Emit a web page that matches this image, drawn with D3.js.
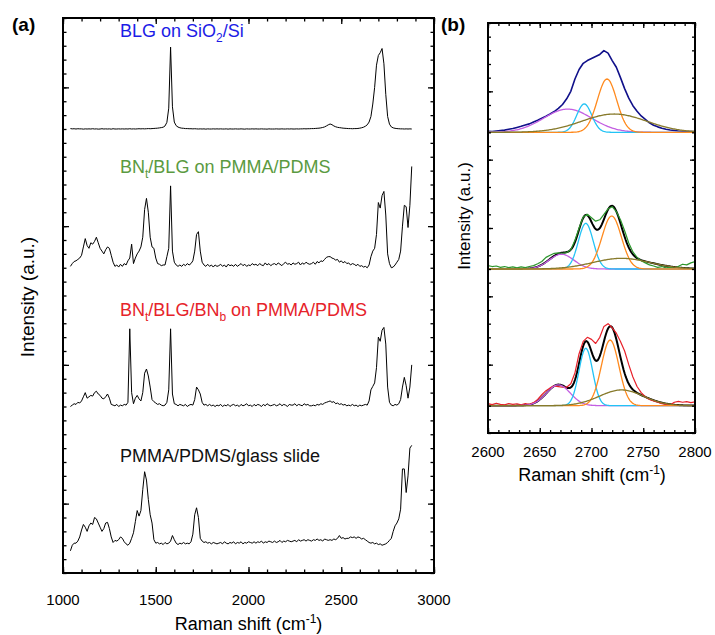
<!DOCTYPE html>
<html><head><meta charset="utf-8">
<script src="https://cdn.jsdelivr.net/npm/d3@7"></script>
<style>
body{margin:0;background:#fff}
svg{display:block}
text{font-family:"Liberation Sans",Arial,Helvetica,sans-serif}
</style>
</head><body>
<svg id="c" width="715" height="635"></svg>
<script>
// ---------------- DATA: panel (a) ----------------
// Raman shift grid of the spectra (cm^-1), 10 cm^-1 steps from 1040 to 2880
const shiftStart = 1040, shiftEnd = 2880, shiftStep = 10;
const spectraLabels = ["BLG on SiO2/Si", "BNt/BLG on PMMA/PDMS", "BNt/BLG/BNb on PMMA/PDMS", "PMMA/PDMS/glass slide"];
const spectraOffsets = [320, 220, 120, 20];
const blgSiO2 = [
 0.3,0.1,0.2,0,0.2,0.1,0.1,-0.1,0.1,0,
 0.1,0,0.2,0,0.1,-0.1,0,0.2,0,0.1,
 0,0.1,-0.1,0.2,0,0,0.1,0,0.1,0,
 0.1,0,0.2,0,0.1,0,0.1,0.2,0.1,0.2,
 0.1,0.2,0.3,0.2,0.3,0.4,0.5,0.6,0.8,1,
 1.3,2.2,4.8,15,59,16,5,2.4,1.4,0.9,
 0.6,0.5,0.3,0.3,0.2,0.2,0.1,0.2,0.1,0,
 0.1,0,0.1,-0.1,0.1,0,0,0.1,0,0.1,
 0,0.1,0,0,0.1,-0.1,0.1,0,0,0.1,
 0,0,0.1,0,-0.1,0.1,0,0,0.1,0,
 0.1,0,0,0.1,0,0,-0.1,0.1,0,0,
 0,0.1,0,0,0.1,0,0,0.1,0,0.1,
 0,0,0.1,0,0.1,0.1,0.2,0.1,0.2,0.2,
 0.3,0.3,0.4,0.5,0.6,0.8,1.1,1.5,2.2,3,
 3.6,3.1,2.2,1.6,1.2,1,0.8,0.6,0.5,0.4,
 0.3,0.3,0.2,0.3,0.3,0.4,0.6,0.9,1.3,2,
 3,5,9,18,30,46,53,55,58,47,
 25,9,3.5,1.5,0.8,0.5,0.3,0.2,0.1,0.1,
 0,0.1,0,0.1,0];
const bnBlgPmma = [
 1,3,4.5,5,6,7,9,15,21,16,
 14,18,17,19,22,18,14,12,10,13,
 15,14,9,4,1,2,0.5,2.5,1,3,
 2,5,7,17,3,7,10,12,15,22,
 42,50,40,22,15,14,7,3,2.5,1.5,
 2,2,8,14,59,12,4,2,1,2,
 1,2.5,1.5,3,2,3,5,12,24,26,
 12,4,2,1,2.5,1,2,0.5,2,1,
 1.5,2.5,1,2,0.5,2.5,1.5,2,1,2.5,
 1,2,3,1.5,2.5,1,2,1.5,3,2,
 2.5,1.5,3,2,1.5,3.5,2,3,1.5,2.5,
 3,2,3.5,2.5,1.5,3,4,2.5,3,2,
 3.5,2.5,3,4,2,3.5,2.5,4,3,2.5,
 3,4,2.5,4.5,3.5,5,4.5,6,7.5,8,
 8,7,6.5,5.5,6,4,5,3.5,4.5,3,
 3.5,2,3,2.5,1.5,2.5,1,1.5,0.5,1,
 0,2,8,12,14,24,47,43,52,55,
 38,10,3,0,0.5,2,4,6,12,30,
 45,44,29,45,73];
const bnBlgBnPmma = [
 0,1,2,1.5,3,2.5,4,7,10,6,
 7,8,7.5,10,11,9,8,6,5.5,7,
 9,6,1.5,1,0.5,1.5,0,1,0.5,1.5,
 1,3,56,10,2,6,8,5.5,4,10,
 24,27,22,14,5,3.5,2.5,1.5,2,1,
 0.5,1,3,12,56,9,2,1.5,0.5,1.5,
 1,0.5,1.5,0,1,1.5,1,5,14,12,
 9,3,1,1.5,0.5,1.5,0.5,1,0,1,
 0.5,1.5,0,1,0.5,1.5,0,1,1.5,0.5,
 1,0,1.5,0.5,1,2,0.5,1,0,1.5,
 0.5,1.5,1,0,1.5,0.5,2,1,0.5,1,
 1.5,0.5,1,2,0.5,1.5,1,0,1.5,1,
 1,2,0.5,1.5,1,0.5,2,1,1.5,0.5,
 0.5,1,0.5,1.5,1,2,1.5,2.5,3,3.5,
 4,3,3.5,2,2.5,1.5,2,1,1.5,0.5,
 1,0.5,1.5,0.5,1,0,1,0.5,1,1.5,
 1,4,12,14.5,17,28,50,47,55,57,
 45,14,3,1,0.5,1.5,1,2,5,14,
 21,15,6,14,30];
const pmmaGlass = [
 -4,0,1.5,1.5,3,6,11,15,13,10,
 14,16,15,20,19,16,13,10,12,16,
 16.5,12,6,2,3.5,3,4,6,5,2.5,
 1,0,1.5,5,9,17,25,21,25,40,
 53,47,33,22,16,4,1.5,2,1,1.5,
 0.5,2,1,1.5,3,7,4,1.5,0.5,1.5,
 1,2,1,1.5,1,2.5,8,22,27,20,
 5,3,2,2.5,1.5,2,1,2,1.5,1,
 1.5,2,1,2.5,1.5,1,2,1.5,2.5,1,
 2,1.5,2.5,1,2,1.5,2.5,2,1.5,2.5,
 1.5,2.5,2,3,1.5,2.5,2,3,2.5,2,
 3,2,2.5,3.5,2,3,2.5,3.5,3,2.5,
 3,3.5,2.5,4,3,3.5,4,3,4,3.5,
 3,4,3.5,4.5,3.5,4,3,4.5,4,3.5,
 4,3.5,4.5,4,5,7,5,5.5,4.5,5,
 5,6,5.5,6,5,6,5.5,4.5,5,4,
 3,2,1.5,2,1,1.5,0.5,1,0,0.5,
 1,2,3.5,5,10,14,16,19,26,55,
 55,38,50,70,72];
const xTicksA = [1000, 1500, 2000, 2500, 3000];
const xMinorA = d3.range(1000, 3001, 100);
const yMajorA = [50, 150, 250, 350];
const yMinorA = d3.range(0, 401, 10);

// ---------------- DATA: panel (b) ----------------
const fitStart = 2600, fitEnd = 2800, fitStep = 4;
const fitOffsets = [220, 120, 20];
const blgSiO2_2D = [
 0.8,0.6,1.0,1.3,1.6,2.2,2.8,3.6,4.4,5.3,
 6.2,7.6,8.8,10.3,11.8,13.4,15.2,17.5,20.4,24.5,
 30,39,46,50.5,52.5,54,55.5,57,59.8,58,
 52.5,47.6,40,32,25,19.5,15.5,12,9.5,7,
 5.2,4,3,2.3,1.7,1.3,1.0,0.8,0.6,0.5,0.5];
const bnBlg_2D = [
 2.5,1.8,2.2,1.2,1.8,1.0,1.5,0.8,1.6,1.0,
 1.8,2.5,3.8,5.5,8.5,10,11.5,11.8,11.5,12,
 14,21,30,38,40,37.5,35,36,40,44,
 45.6,42,36,28,19,12.5,8.5,6,4.5,3,
 2.2,1.2,1.8,0.8,1.4,0.6,2.0,3.5,3.0,4.5,5.4];
const bnBlgBn_2D = [
 1.5,0.8,1.8,1.0,0.6,1.6,0.9,1.4,0.7,1.5,
 1.0,2.2,4.5,8,11,13,14.5,14,13.5,13.5,
 16,24,38,47,50,48.5,45.5,50,58,60,
 57,53,47,40,30,21,14,9.5,6.5,4.5,
 3.5,2.5,1.5,1.0,0.5,2.5,3.2,2.5,3.0,2.2,2.8];
// fitted sub-bands (purple, cyan, orange, olive): centre, FWHM, height
const topCenter = [2677, 2693, 2715, 2722], topFwhm = [55, 17, 22, 74], topHeight = [17, 20.8, 39, 13.4];
const midCenter = [2671, 2694.5, 2719.5, 2729], midFwhm = [28, 17, 22, 65], midHeight = [10.8, 33.4, 38.8, 7.8];
const botCenter = [2668, 2694.5, 2718, 2729], botFwhm = [27, 15.5, 20, 50], botHeight = [15.2, 42, 48, 11.5];
const xTicksB = [2600, 2650, 2700, 2750, 2800];
const xMinorB = d3.range(2600, 2801, 10);
const yMajorB = [50, 100, 150, 200, 250];
const yMinorB = d3.range(0, 301, 10);

// ---------------- DRAWING ----------------
const svg = d3.select("#c");

function frameAxes(x, y, xMinor, xMajor, yMinor, yMajor, majLen, minLen) {
  const [x0, x1] = x.range(), [y0, y1] = y.range();
  const g = svg.append("g");
  const add = (fn, scale, vals, len, tr) => g.append("g").attr("transform", tr)
    .call(fn(scale).tickValues(vals).tickSize(-len).tickFormat(""))
    .call(s => s.select(".domain").remove())
    .call(s => s.selectAll("line").attr("stroke", "#000").attr("stroke-width", 1.3));
  add(d3.axisBottom, x, xMinor, minLen, `translate(0,${y0})`);
  add(d3.axisBottom, x, xMajor, majLen, `translate(0,${y0})`);
  add(d3.axisTop, x, xMinor, minLen, `translate(0,${y1})`);
  add(d3.axisTop, x, xMajor, majLen, `translate(0,${y1})`);
  add(d3.axisLeft, y, yMinor, minLen, `translate(${x0},0)`);
  add(d3.axisLeft, y, yMajor, majLen, `translate(${x0},0)`);
  add(d3.axisRight, y, yMinor, minLen, `translate(${x1},0)`);
  add(d3.axisRight, y, yMajor, majLen, `translate(${x1},0)`);
  g.append("rect").attr("x", x0).attr("y", y1).attr("width", x1 - x0).attr("height", y0 - y1)
    .attr("fill", "none").attr("stroke", "#000").attr("stroke-width", 2);
  return g;
}

// ----- panel (a)
const xA = d3.scaleLinear().domain([1000, 3000]).range([63, 434]);
const yA = d3.scaleLinear().domain([0, 400]).range([573, 18]);
const gridA = d3.range(shiftStart, shiftEnd + 1, shiftStep);
const spectraA = [blgSiO2, bnBlgPmma, bnBlgBnPmma, pmmaGlass];
spectraA.forEach((vals, k) => {
  const line = d3.line().x((d, i) => xA(gridA[i])).y(d => yA(spectraOffsets[k] + d));
  svg.append("path").attr("d", line(vals)).attr("fill", "none")
    .attr("stroke", "#000").attr("stroke-width", 1).attr("stroke-linejoin", "round");
});
frameAxes(xA, yA, xMinorA, xTicksA, yMinorA, yMajorA, 6, 3.5);
svg.append("g").selectAll("text").data(xTicksA).join("text")
  .attr("x", d => xA(d)).attr("y", 605).attr("text-anchor", "middle")
  .attr("font-size", 15).text(d => d);

// sample labels
function label(x, y, color, parts) {
  const t = svg.append("text").attr("x", x).attr("y", y).attr("fill", color).attr("font-size", 18);
  let shift = 0;
  parts.forEach(p => {
    const s = t.append("tspan").text(p[0]);
    const want = p[1] === "sub" ? 5 : 0;
    if (want !== shift) { s.attr("dy", want - shift); shift = want; }
    if (p[1] === "sub") s.attr("font-size", 12);
  });
}
label(120, 37, "#1c1ce6", [["BLG on SiO"], ["2", "sub"], ["/Si"]]);
label(120, 173, "#5b9a41", [["BN"], ["t", "sub"], ["/BLG on PMMA/PDMS"]]);
label(120, 316, "#e6232a", [["BN"], ["t", "sub"], ["/BLG/BN"], ["b", "sub"], [" on PMMA/PDMS"]]);
label(120, 462, "#111", [["PMMA/PDMS/glass slide"]]);

function xTitle(cx, y) {
  const t = svg.append("text").attr("x", cx).attr("y", y).attr("text-anchor", "middle").attr("font-size", 18);
  t.append("tspan").text("Raman shift (cm");
  t.append("tspan").text("-1").attr("font-size", 12).attr("dy", -7);
  t.append("tspan").text(")").attr("dy", 7);
}
xTitle(248.5, 630);
svg.append("text").attr("transform", "translate(34,297) rotate(-90)").attr("text-anchor", "middle")
  .attr("font-size", 19).text("Intensity (a.u.)");
svg.append("text").attr("x", 12).attr("y", 31).attr("font-size", 19).attr("font-weight", "bold").text("(a)");
svg.append("text").attr("x", 441).attr("y", 31).attr("font-size", 19).attr("font-weight", "bold").text("(b)");

// ----- panel (b)
const xB = d3.scaleLinear().domain([2600, 2800]).range([488, 695]);
const yB = d3.scaleLinear().domain([0, 300]).range([433, 23]);
const gridB = d3.range(fitStart, fitEnd + 1, fitStep);
const fine = d3.range(fitStart, fitEnd + 0.5, 1);
const bandColors = ["#c35fe2", "#22c3f5", "#ff8a1e", "#877a2b"];
const gauss = (x, c, w, h) => h * Math.exp(-4 * Math.LN2 * ((x - c) / w) ** 2);
const fits = [[topCenter, topFwhm, topHeight], [midCenter, midFwhm, midHeight], [botCenter, botFwhm, botHeight]];
const dataB = [blgSiO2_2D, bnBlg_2D, bnBlgBn_2D];
const dataColors = ["#10108a", "#2c962c", "#e8212a"];
const clip = svg.append("defs").append("clipPath").attr("id", "clipB")
  .append("rect").attr("x", 488).attr("y", 23).attr("width", 207).attr("height", 410);
const gB = svg.append("g").attr("clip-path", "url(#clipB)");
fits.forEach(([cen, fw, ht], k) => {
  const off = fitOffsets[k];
  const ln = d3.line().x(d => xB(d[0])).y(d => yB(off + d[1]));
  if (k > 0) {
    const sum = fine.map(x => [x, d3.sum(cen, (c, j) => gauss(x, c, fw[j], ht[j]))]);
    gB.append("path").attr("d", ln(sum)).attr("fill", "none").attr("stroke", "#000").attr("stroke-width", 2);
  }
  gB.append("path").attr("d", ln(dataB[k].map((v, i) => [gridB[i], v]))).attr("fill", "none")
    .attr("stroke", dataColors[k]).attr("stroke-width", k === 0 ? 1.6 : 1.2).attr("stroke-linejoin", "round");
  cen.forEach((c, j) => {
    const comp = fine.map(x => [x, gauss(x, c, fw[j], ht[j])]);
    gB.append("path").attr("d", ln(comp)).attr("fill", "none")
      .attr("stroke", bandColors[j]).attr("stroke-width", 1.3);
  });
});
frameAxes(xB, yB, xMinorB, xTicksB, yMinorB, yMajorB, 5, 3);
svg.append("g").selectAll("text").data(xTicksB).join("text")
  .attr("x", d => xB(d)).attr("y", 457).attr("text-anchor", "middle")
  .attr("font-size", 15).text(d => d);
xTitle(592, 481);
svg.append("text").attr("transform", "translate(470,216) rotate(-90)").attr("text-anchor", "middle")
  .attr("font-size", 17).text("Intensity (a.u.)");
</script>
</body></html>
